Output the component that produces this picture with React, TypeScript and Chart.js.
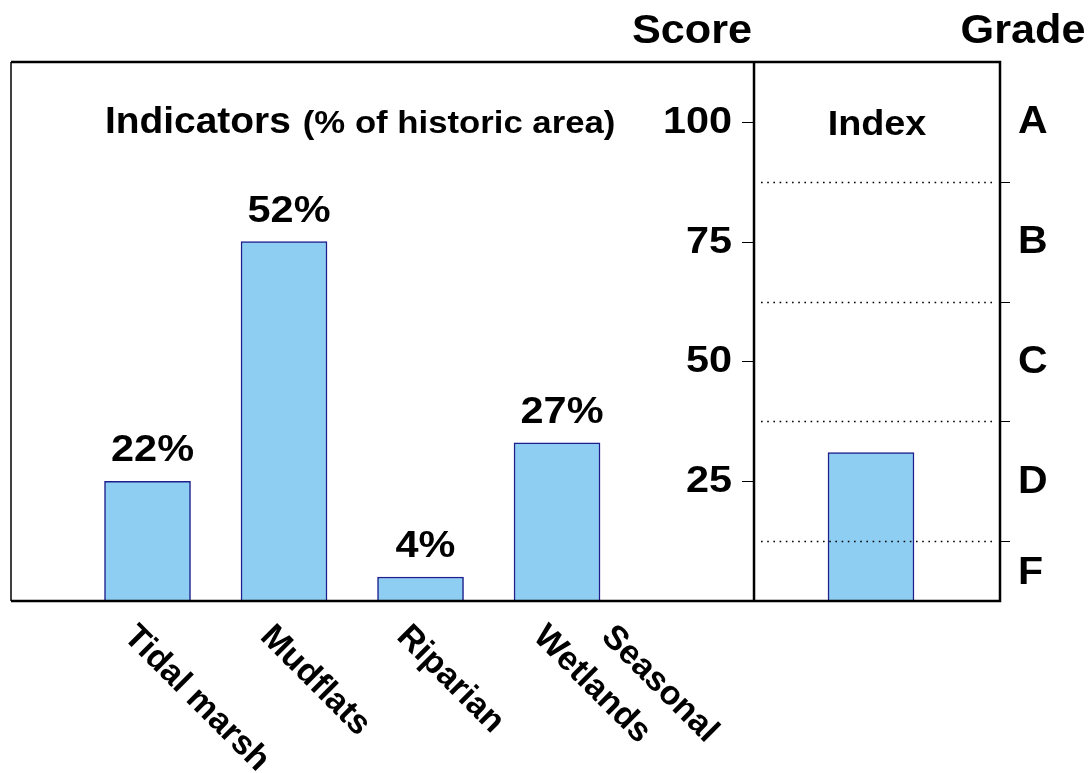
import React, { useEffect, useRef } from 'react';
import { Chart, registerables } from 'chart.js';

Chart.register(...registerables);

// ---- data ----
const categories: string[][] = [['Tidal marsh'], ['Mudflats'], ['Riparian'], ['Seasonal', 'Wetlands']];
const indicatorScores = [25, 75, 5, 33];
const percentLabels = ['22%', '52%', '4%', '27%'];
const indexScore = 31;
const scoreTicks = [25, 50, 75, 100];
const gradeLabels = ['A', 'B', 'C', 'D', 'F'];
const gradeLabelValues = [100, 75, 50, 25, 6];
const gradeBoundaries = [87.5, 62.5, 37.5, 12.5];

// ---- layout (not data) ----
const X_MAX = 7.245;
const DIVIDER_X = 5.443;
const INDEX_X = 6.3;
const Y_MAX = 112.5;
const FONT = '"Liberation Sans", Arial, Helvetica, sans-serif';
const SX = 1.08;
const BAR_FILL = '#8FCEF3';
const BAR_EDGE = '#1E1E8C';

function txt(ctx: CanvasRenderingContext2D, s: string, x: number, y: number, size: number,
  align: CanvasTextAlign, baseline: CanvasTextBaseline = 'alphabetic', sx = SX) {
  ctx.save();
  ctx.translate(x, y);
  ctx.scale(sx, 1);
  ctx.font = `bold ${size}px ${FONT}`;
  ctx.textAlign = align;
  ctx.textBaseline = baseline;
  ctx.fillStyle = '#000';
  ctx.fillText(s, 0, 0);
  ctx.restore();
}

const decorPlugin = {
  id: 'decor',
  afterDatasetsDraw(chart: any) {
    const ctx: CanvasRenderingContext2D = chart.ctx;
    const xs = chart.scales.x;
    const ys = chart.scales.y;
    const ca = chart.chartArea;
    const divX = xs.getPixelForValue(DIVIDER_X);

    ctx.save();
    // dotted grade boundaries
    ctx.strokeStyle = '#000';
    ctx.lineWidth = 1.6;
    ctx.setLineDash([1.6, 4.6]);
    gradeBoundaries.forEach((v) => {
      const y = Math.round(ys.getPixelForValue(v)) + 0.5;
      ctx.beginPath();
      ctx.moveTo(divX + 7, y);
      ctx.lineTo(ca.right - 5, y);
      ctx.stroke();
    });
    ctx.setLineDash([]);

    // grade tick marks
    ctx.lineWidth = 1;
    gradeBoundaries.forEach((v) => {
      const y = Math.round(ys.getPixelForValue(v)) + 0.5;
      ctx.beginPath();
      ctx.moveTo(ca.right, y);
      ctx.lineTo(ca.right + 10, y);
      ctx.stroke();
    });

    // score tick marks
    scoreTicks.forEach((v) => {
      const y = Math.round(ys.getPixelForValue(v)) + 0.5;
      ctx.beginPath();
      ctx.moveTo(divX - 12, y);
      ctx.lineTo(divX, y);
      ctx.stroke();
    });

    // frame
    ctx.lineWidth = 2.5;
    ctx.beginPath();
    ctx.moveTo(ca.left, ca.top);
    ctx.lineTo(ca.right, ca.top);
    ctx.lineTo(ca.right, ca.bottom);
    ctx.lineTo(ca.left, ca.bottom);
    ctx.stroke();
    ctx.lineWidth = 1.5;
    ctx.beginPath();
    ctx.moveTo(ca.left, ca.top);
    ctx.lineTo(ca.left, ca.bottom);
    ctx.stroke();
    ctx.lineWidth = 2.5;
    ctx.beginPath();
    ctx.moveTo(divX, ca.top);
    ctx.lineTo(divX, ca.bottom);
    ctx.stroke();
    ctx.restore();

    // score tick labels
    scoreTicks.forEach((v) => {
      txt(ctx, String(v), divX - 22, ys.getPixelForValue(v) + 1, 36, 'right', 'middle', 1.15);
    });

    // grade letters
    gradeLabels.forEach((g, i) => {
      txt(ctx, g, ca.right + 18, ys.getPixelForValue(gradeLabelValues[i]) + 1, 38, 'left', 'middle');
    });

    // headers
    txt(ctx, 'Score', divX - 62, 43, 40, 'center');
    txt(ctx, 'Grade', ca.right + 23, 43, 40, 'center');
    txt(ctx, 'Index', (divX + ca.right) / 2, 135, 35, 'center');

    // title
    ctx.save();
    ctx.font = `bold 36px ${FONT}`;
    const w1 = ctx.measureText('Indicators').width * SX;
    ctx.restore();
    const tx = ca.left + 94;
    txt(ctx, 'Indicators', tx, 133, 36, 'left');
    txt(ctx, '(% of historic area)', tx + w1 + 12, 133, 31, 'left', 'alphabetic', 1.12);

    // percentage labels above bars
    const meta = chart.getDatasetMeta(0);
    meta.data.forEach((bar: any, i: number) => {
      txt(ctx, percentLabels[i], bar.x + 5, bar.y - 20, 37, 'center', 'alphabetic', 1.12);
    });

    // rotated category labels
    categories.forEach((lines, i) => {
      const cx = xs.getPixelForValue(i + 1);
      const n = lines.length;
      lines.forEach((line, j) => {
        const ox = cx - 25 + (n - 1 - j) * 68;
        const oy = ca.bottom + 37;
        ctx.save();
        ctx.translate(ox, oy);
        ctx.rotate(Math.PI / 4);
        ctx.font = `bold 34px ${FONT}`;
        ctx.textAlign = 'left';
        ctx.textBaseline = 'alphabetic';
        ctx.fillStyle = '#000';
        ctx.fillText(line, 0, 0);
        ctx.restore();
      });
    });
  },
};

export default function App() {
  const ref = useRef<HTMLCanvasElement | null>(null);
  useEffect(() => {
    if (!ref.current) return;
    const chart = new Chart(ref.current, {
      type: 'bar',
      data: {
        datasets: [
          {
            data: indicatorScores.map((v, i) => ({ x: i + 1, y: v })),
            backgroundColor: BAR_FILL,
            borderColor: BAR_EDGE,
            borderWidth: 1.5,
            barThickness: 86,
            grouped: false,
          },
          {
            data: [{ x: INDEX_X, y: indexScore }],
            backgroundColor: BAR_FILL,
            borderColor: BAR_EDGE,
            borderWidth: 1.5,
            barThickness: 86,
            grouped: false,
          },
        ],
      } as any,
      options: {
        animation: false,
        responsive: false,
        layout: { padding: { left: 11, top: 62, right: 90, bottom: 172 } },
        scales: {
          x: { type: 'linear', min: 0, max: X_MAX, offset: false, display: false, grid: { display: false } },
          y: { min: 0, max: Y_MAX, display: false, grid: { display: false } },
        },
        plugins: { legend: { display: false }, tooltip: { enabled: false } },
      } as any,
      plugins: [decorPlugin],
    });
    return () => chart.destroy();
  }, []);
  return (
    <div style={{ position: 'absolute', left: 0, top: 0, width: 1090, height: 773, background: '#fff' }}>
      <canvas ref={ref} width={1090} height={773} style={{ display: 'block', width: 1090, height: 773 }} />
    </div>
  );
}
